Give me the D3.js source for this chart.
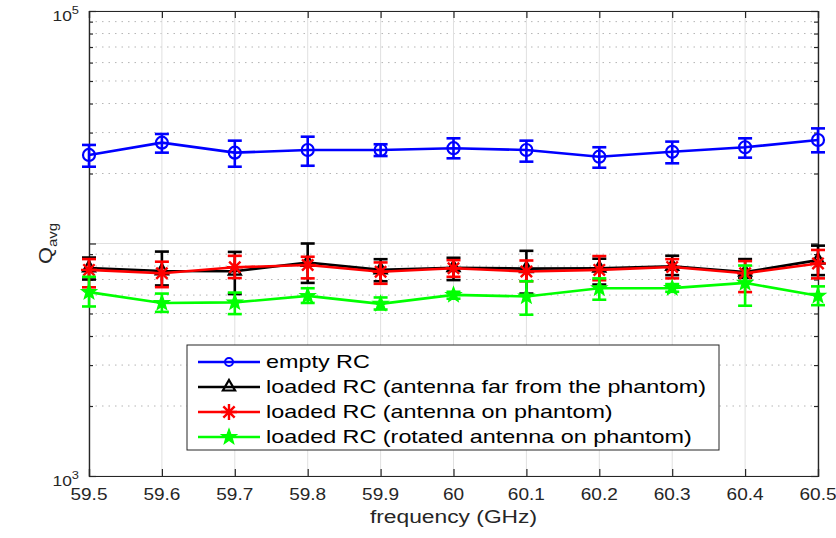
<!DOCTYPE html>
<html><head><meta charset="utf-8">
<script src="https://cdn.jsdelivr.net/npm/d3@7"></script>
<style>body{margin:0;background:#fff;}svg{font-family:"Liberation Sans",Arial,sans-serif;}</style>
</head><body><svg id="c" width="836" height="538"></svg>
<script>
const freqs = [59.5,59.6,59.7,59.8,59.9,60.0,60.1,60.2,60.3,60.4,60.5];
const xTicks = ["59.5","59.6","59.7","59.8","59.9","60","60.1","60.2","60.3","60.4","60.5"];
const seriesNames = ["empty RC","loaded RC (antenna far from the phantom)","loaded RC (antenna on phantom)","loaded RC (rotated antenna on phantom)"];
const emptyMean = [24040,27150,24590,25240,25240,25700,25240,23620,24800,25940,27870];
const emptyLow  = [21390,24590,21390,21600,23780,23250,22490,21180,22130,23400,24670];
const emptyHigh = [26540,29580,27690,28800,26720,28340,27690,25940,27430,28340,31270];
const farMean = [7850,7620,7600,8290,7700,7870,7800,7830,7980,7530,8480];
const farLow  = [7000,6600,6060,6770,6880,6960,6090,6660,7310,7110,7310];
const farHigh = [8700,9230,9200,10000,8560,8680,9300,8600,8860,8570,9790];
const onMean = [7700,7450,7900,8080,7560,7830,7580,7700,7920,7450,8210];
const onLow  = [6480,6490,7100,7080,6710,7190,6880,6950,7080,6180,7080];
const onHigh = [8570,8350,8850,8770,8290,8480,8450,8830,8570,8400,9380];
const rotMean = [6180,5550,5580,5950,5500,6010,5920,6420,6430,6770,5960];
const rotLow  = [5360,5080,4970,5550,5200,5790,4940,5730,6200,5400,5430];
const rotHigh = [7190,6090,6150,6420,5860,6200,6880,7080,6690,8040,6540];
const yTickVals = [1e3,1e4,1e5];
const yLabelVals = [1e3,1e5];      // 10^4 label is covered by the axis title in the reference
const yLabelExp = ["3","5"];

const svg = d3.select("#c");
const L=89,T=11,R=818,B=476;
const x = d3.scaleLinear().domain([59.5,60.5]).range([L,R]);
const y = d3.scaleLog().domain([1e3,1e5]).range([B,T]);
const axisCol="#262626";

function stretch(sel, ax, s){ sel.attr("transform",`translate(${ax},0) scale(${s},1) translate(${-ax},0)`); }

const g = svg.append("g");
const minors=[];
for (let e=3;e<5;e++) for(let m=2;m<10;m++) minors.push(m*Math.pow(10,e));
g.selectAll(".mg").data(minors).enter().append("line")
 .attr("x1",L).attr("x2",R).attr("y1",d=>y(d)).attr("y2",d=>y(d))
 .attr("stroke","#b5b5b5").attr("stroke-width",1).attr("stroke-dasharray","1.5,5");
g.selectAll(".xg").data(freqs).enter().append("line")
 .attr("x1",d=>x(d)).attr("x2",d=>x(d)).attr("y1",T).attr("y2",B)
 .attr("stroke","#e0e0e0").attr("stroke-width",1);
g.selectAll(".yg").data(yTickVals).enter().append("line")
 .attr("x1",L).attr("x2",R).attr("y1",d=>y(d)).attr("y2",d=>y(d))
 .attr("stroke","#e0e0e0").attr("stroke-width",1);

const xb = svg.append("g").attr("transform",`translate(0,${B})`)
 .call(d3.axisBottom(x).tickValues(freqs).tickSize(-7).tickFormat(""));
const xt = svg.append("g").attr("transform",`translate(0,${T})`)
 .call(d3.axisTop(x).tickValues(freqs).tickSize(-7).tickFormat(""));
const yl = svg.append("g").attr("transform",`translate(${L},0)`)
 .call(d3.axisLeft(y).tickValues(yTickVals).tickSize(-7).tickFormat(""));
const yr = svg.append("g").attr("transform",`translate(${R},0)`)
 .call(d3.axisRight(y).tickValues(yTickVals).tickSize(-7).tickFormat(""));
const ylm = svg.append("g").attr("transform",`translate(${L},0)`)
 .call(d3.axisLeft(y).tickValues(minors).tickSize(-4).tickFormat(""));
const yrm = svg.append("g").attr("transform",`translate(${R},0)`)
 .call(d3.axisRight(y).tickValues(minors).tickSize(-4).tickFormat(""));
[xb,xt,yl,yr,ylm,yrm].forEach(a=>{a.select(".domain").attr("stroke",axisCol).attr("stroke-width",1.2);
 a.selectAll(".tick line").attr("stroke",axisCol).attr("stroke-width",1.2);});
const xLab = svg.append("g");
freqs.forEach((f,i)=>{
  const t = xLab.append("text").attr("x",x(f)).attr("y",500.5).attr("text-anchor","middle")
   .attr("font-size",17).attr("fill",axisCol).text(xTicks[i]);
  stretch(t,x(f),1.12);
});
const yLab = svg.append("g");
yLabelVals.forEach((v,i)=>{
  const t = yLab.append("text").attr("x",L-10).attr("y",y(v)+10).attr("text-anchor","end")
   .attr("font-size",15.5).attr("fill",axisCol);
  t.append("tspan").text("10");
  t.append("tspan").attr("dy",-7).attr("font-size",11.5).text(yLabelExp[i]);
  stretch(t,L-10,1.12);
});
const xtl = svg.append("text").attr("x",(L+R)/2).attr("y",523).attr("text-anchor","middle")
 .attr("font-size",19).attr("fill",axisCol).text("frequency (GHz)");
stretch(xtl,(L+R)/2,1.2);
const yt = svg.append("text").attr("transform",`translate(52,${(T+B)/2}) rotate(-90) scale(1.15,1)`)
 .attr("text-anchor","middle").attr("font-size",19).attr("fill",axisCol);
yt.append("tspan").text("Q");
yt.append("tspan").attr("font-size",13).attr("dy",5).text("avg");

const series = [
 {name:seriesNames[0],mean:emptyMean,low:emptyLow,high:emptyHigh,color:"#0000ff",marker:"circle"},
 {name:seriesNames[1],mean:farMean,low:farLow,high:farHigh,color:"#000000",marker:"triangle"},
 {name:seriesNames[2],mean:onMean,low:onLow,high:onHigh,color:"#ff0000",marker:"asterisk"},
 {name:seriesNames[3],mean:rotMean,low:rotLow,high:rotHigh,color:"#00ff00",marker:"pentagram"}
];
function drawMarker(sel,type,cx,cy,col){
  if(type==="circle"){
    sel.append("circle").attr("cx",cx).attr("cy",cy).attr("r",6).attr("fill","none").attr("stroke",col).attr("stroke-width",2.2);
  } else if(type==="triangle"){
    const s=7;
    sel.append("path").attr("d",`M${cx},${cy-s}L${cx+s*0.87},${cy+s*0.5}L${cx-s*0.87},${cy+s*0.5}Z`).attr("fill","none").attr("stroke",col).attr("stroke-width",2.2);
  } else if(type==="asterisk"){
    const s=8; let d="";
    for(let k=0;k<4;k++){const a=k*Math.PI/4;d+=`M${cx-s*Math.cos(a)},${cy-s*Math.sin(a)}L${cx+s*Math.cos(a)},${cy+s*Math.sin(a)}`;}
    sel.append("path").attr("d",d).attr("stroke",col).attr("stroke-width",2.4).attr("fill","none");
  } else {
    const ro=8, ri=3.3; const pts=[];
    for(let k=0;k<10;k++){const r=k%2?ri:ro;const a=-Math.PI/2+k*Math.PI/5;pts.push([cx+r*Math.cos(a),cy+r*Math.sin(a)]);}
    sel.append("path").attr("d","M"+pts.map(p=>p.join(",")).join("L")+"Z").attr("fill",col).attr("stroke",col).attr("stroke-width",1.2);
  }
}
const line = d3.line().x(d=>x(d[0])).y(d=>y(d[1]));
series.forEach(s=>{
  const sg = svg.append("g");
  sg.append("path").datum(freqs.map((f,i)=>[f,s.mean[i]])).attr("d",line)
    .attr("fill","none").attr("stroke",s.color).attr("stroke-width",2.6);
  const cw=7;
  freqs.forEach((f,i)=>{
    const cx=x(f);
    sg.append("line").attr("x1",cx).attr("x2",cx).attr("y1",y(s.low[i])).attr("y2",y(s.high[i])).attr("stroke",s.color).attr("stroke-width",2.6);
    sg.append("line").attr("x1",cx-cw).attr("x2",cx+cw).attr("y1",y(s.low[i])).attr("y2",y(s.low[i])).attr("stroke",s.color).attr("stroke-width",2.6);
    sg.append("line").attr("x1",cx-cw).attr("x2",cx+cw).attr("y1",y(s.high[i])).attr("y2",y(s.high[i])).attr("stroke",s.color).attr("stroke-width",2.6);
    drawMarker(sg,s.marker,cx,y(s.mean[i]),s.color);
  });
});

const lg = svg.append("g");
lg.append("rect").attr("x",187).attr("y",345).attr("width",532).attr("height",105)
  .attr("fill","#fff").attr("stroke",axisCol).attr("stroke-width",1);
series.forEach((s,i)=>{
  const cy = 362 + i*25;
  lg.append("line").attr("x1",198).attr("x2",260).attr("y1",cy).attr("y2",cy).attr("stroke",s.color).attr("stroke-width",2.6);
  const mk = lg.append("g");
  if(s.marker==="circle") mk.append("circle").attr("cx",229).attr("cy",cy).attr("r",4).attr("fill","none").attr("stroke",s.color).attr("stroke-width",2);
  else drawMarker(mk,s.marker,229,cy,s.color);
  const t = lg.append("text").attr("x",266).attr("y",cy+6.5).attr("font-size",19).attr("fill","#000").text(s.name);
  stretch(t,266,1.23);
});
</script></body></html>
